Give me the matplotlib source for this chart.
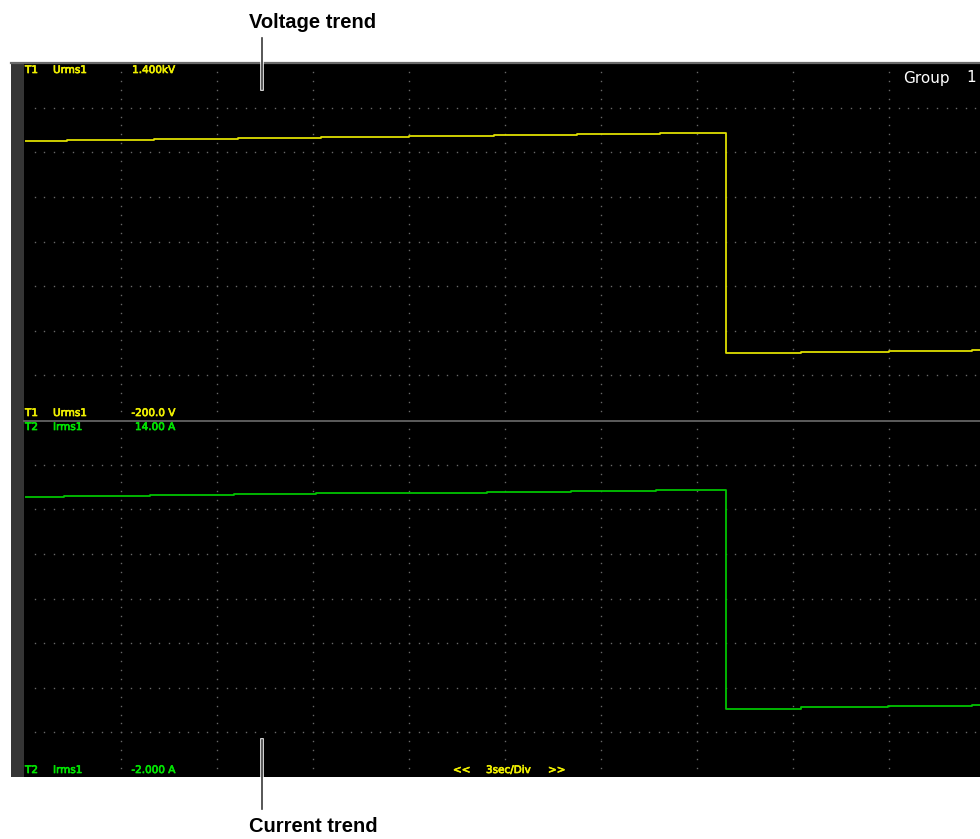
import numpy as np
import matplotlib
matplotlib.use('Agg')
from matplotlib import pyplot as plt
from matplotlib.patches import Rectangle
from matplotlib.lines import Line2D
import matplotlib.patheffects as pe

# Trend data (time in s, 3 s/div, 10 div)
volt_times = [0, 1.31, 4.03, 6.66, 9.25, 12.0, 14.66, 17.25, 19.84, 21.9, 24.25, 27.0, 29.6, 30.5]
volt_values = [1050, 1054, 1058, 1063, 1067, 1072, 1076, 1080, 1085, 102, 106, 110, 115, 115]
curr_times = [0, 1.22, 3.91, 6.53, 9.09, 11.78, 14.44, 17.06, 19.72, 21.91, 24.25, 26.97, 29.6, 30.5]
curr_values = [10.56, 10.60, 10.64, 10.67, 10.71, 10.75, 10.79, 10.83, 10.87, 1.07, 1.12, 1.16, 1.23, 1.23]

volt_range = (-200, 1400)
curr_range = (-2, 14)
time_span = 30
divs_x = 10
divs_y = 8

W, H = 980, 839
fig = plt.figure(figsize=(W / 100, H / 100), dpi=100)
fig.patch.set_facecolor('white')


def fx(x):
    return x / W


def fy(y):
    return 1 - y / H


# screen background and left bar
fig.patches.append(Rectangle((fx(24), fy(777)), fx(980 - 24), (777 - 63) / H,
                             transform=fig.transFigure, fc='black', ec='none', zorder=-2))
fig.patches.append(Rectangle((fx(11), fy(777)), fx(13), (777 - 63) / H,
                             transform=fig.transFigure, fc='#353535', ec='none', zorder=-2))


def make_panel(top, lo, hi, times, values, color):
    ax = fig.add_axes([fx(25), fy(top + 357), fx(960), 357 / H])
    ax.set_facecolor('black')
    ax.set_xlim(0, time_span)
    ax.set_ylim(lo, hi)
    for s in ax.spines.values():
        s.set_visible(False)
    ax.set_xticks([])
    ax.set_yticks([])
    step_y = (hi - lo) / divs_y
    step_x = time_span / divs_x
    # dotted grid
    for t in np.arange(step_x, time_span, step_x):
        ys = np.arange(lo + step_y / 5, hi, step_y / 5)
        ax.plot(np.full_like(ys, t), ys, ls='none', marker='s', ms=1.0,
                mec='none', mfc='#686868')
    for v in np.arange(lo + step_y, hi - 1e-9, step_y):
        xs = np.arange(step_x / 10, time_span, step_x / 10)
        ax.plot(xs, np.full_like(xs, v), ls='none', marker='s', ms=1.0,
                mec='none', mfc='#686868')
    ax.plot(times, values, drawstyle='steps-post', c=color, lw=1.3)
    return ax


ax_v = make_panel(63, volt_range[0], volt_range[1], volt_times, volt_values, '#dede00')
ax_i = make_panel(420, curr_range[0], curr_range[1], curr_times, curr_values, '#00c400')

# borders
fig.lines.append(Line2D([fx(11), fx(980)], [fy(63), fy(63)], transform=fig.transFigure,
                        c='#6a6a6a', lw=1.6))
fig.lines.append(Line2D([fx(24), fx(980)], [fy(420.5), fy(420.5)], transform=fig.transFigure,
                        c='#5c5c5c', lw=1.4, zorder=5))

yel = '#f0f000'
grn = '#00e400'
fs = 7.5


def screen_text(x, y, s, color, ha='left', size=fs, bold=True):
    effects = [pe.withStroke(linewidth=0.5, foreground=color)] if bold else []
    fig.text(fx(x), fy(y), s, color=color, ha=ha, va='center', fontsize=size,
             family='DejaVu Sans', zorder=10, path_effects=effects)


screen_text(25, 70, 'T1', yel)
screen_text(53, 70, 'Urms1', yel)
screen_text(175, 70, '1.400kV', yel, ha='right')
screen_text(25, 413, 'T1', yel)
screen_text(53, 413, 'Urms1', yel)
screen_text(175, 413, '-200.0 V', yel, ha='right')
screen_text(25, 427, 'T2', grn)
screen_text(53, 427, 'Irms1', grn)
screen_text(175, 427, '14.00 A', grn, ha='right')
screen_text(25, 770, 'T2', grn)
screen_text(53, 770, 'Irms1', grn)
screen_text(175, 770, '-2.000 A', grn, ha='right')
screen_text(453, 770, '<<', yel)
screen_text(486, 770, '3sec/Div', yel)
screen_text(548, 770, '>>', yel)
screen_text(903, 78, 'Group', 'white', size=11, bold=False)
screen_text(966, 78, '1', 'white', size=11, bold=False)

# callouts
for y0, y1 in [(38, 89), (740, 809)]:
    fig.lines.append(Line2D([fx(262), fx(262)], [fy(y0), fy(y1)], transform=fig.transFigure,
                            c='#3a3a3a', lw=1.2, zorder=12,
                            path_effects=[pe.Stroke(linewidth=2.6, foreground='white'), pe.Normal()]))
fig.text(fx(313), fy(22), 'Voltage trend', ha='center', va='center', fontsize=14.5,
         fontweight='bold', family='Liberation Sans')
fig.text(fx(313), fy(827), 'Current trend', ha='center', va='center', fontsize=14.5,
         fontweight='bold', family='Liberation Sans')

fig.savefig('out.png', dpi=100, facecolor='white')
